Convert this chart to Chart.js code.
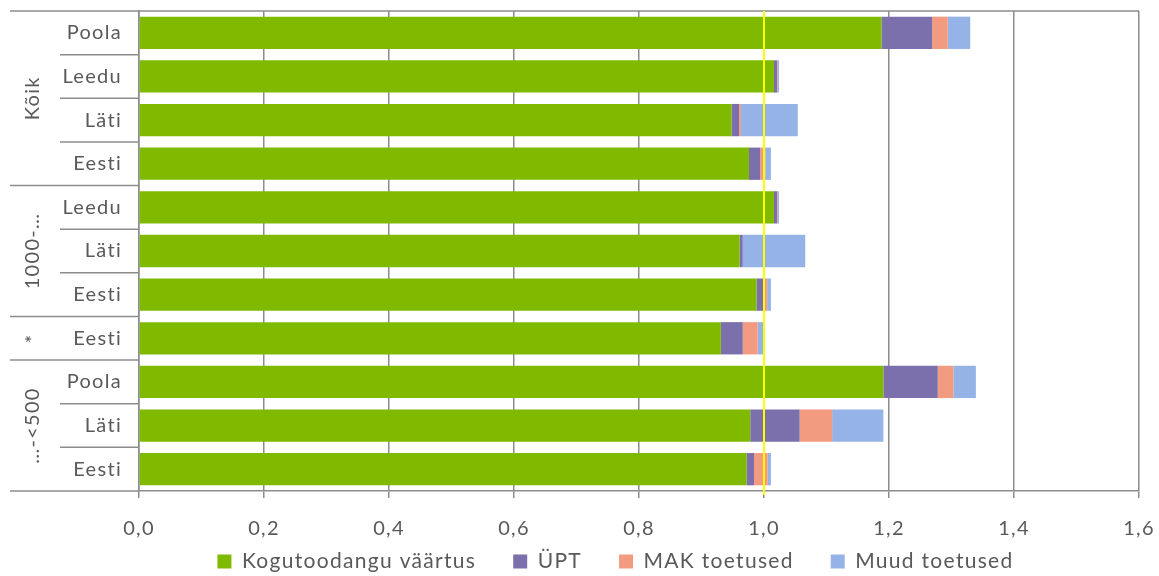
<!DOCTYPE html>
<html lang="et">
<head>
    <meta charset="UTF-8">
    <title>Tulud ja toetused</title>
    <script src="https://cdn.jsdelivr.net/npm/chart.js"></script>
    <style>
        html, body {
            margin: 0;
            padding: 0;
            background: #fff;
        }
        #wrap {
            width: 1159px;
            height: 576px;
        }
    </style>
</head>
<body>
    <div id="wrap">
        <canvas id="barChart" width="1159" height="576"></canvas>
    </div>

    <script>
        // Andmed (loetud jooniselt)
        var countries = ['Poola', 'Leedu', 'Läti', 'Eesti', 'Leedu', 'Läti', 'Eesti', 'Eesti', 'Poola', 'Läti', 'Eesti'];
        var groupNames = ['Kõik', '1000-…', '*', '…-<500'];
        var groupSizes = [4, 3, 1, 3];

        var kogutoodang = [1.188, 1.016, 0.948, 0.976, 1.016, 0.961, 0.988, 0.931, 1.191, 0.978, 0.972];
        var upt         = [0.081, 0.005, 0.012, 0.018, 0.005, 0.005, 0.011, 0.035, 0.087, 0.079, 0.012];
        var makToetused = [0.025, 0.001, 0.003, 0.008, 0.001, 0.000, 0.006, 0.024, 0.025, 0.052, 0.022];
        var muudToetused = [0.036, 0.002, 0.091, 0.009, 0.002, 0.100, 0.006, 0.009, 0.036, 0.082, 0.005];

        var xTicks = [0, 0.2, 0.4, 0.6, 0.8, 1.0, 1.2, 1.4, 1.6];
        var referenceValue = 1.0;

        var textColor = '#595959';
        var gridColor = '#8c8c8c';
        var fontFamily = 'Lato, "Open Sans", sans-serif';
        var spacing = '1.3px';

        // hõredam kiri nagu originaalis
        var letterSpacingPlugin = {
            id: 'letterSpacing',
            beforeLayout: function(chart) { chart.ctx.letterSpacing = spacing; },
            beforeDraw: function(chart) { chart.ctx.letterSpacing = spacing; },
            afterLayout: function(chart) {
                // legend veidi paremale, nagu originaalis
                chart.legend.left += 46;
                chart.legend.right += 46;
            }
        };

        // Vasakpoolsed rühmasildid ja eraldusjooned + kollane joon 1,0 juures
        var groupAxisPlugin = {
            id: 'groupAxis',
            afterDatasetsDraw: function(chart) {
                var ctx = chart.ctx;
                var area = chart.chartArea;
                var x = chart.scales.x;
                var step = (area.bottom - area.top) / countries.length;

                ctx.save();
                ctx.strokeStyle = gridColor;
                ctx.lineWidth = 1.5;

                // ülemine joon
                ctx.beginPath();
                ctx.moveTo(10, area.top);
                ctx.lineTo(area.right, area.top);
                ctx.stroke();

                var idx = 0;
                for (var g = 0; g < groupNames.length; g++) {
                    var start = idx;
                    for (var k = 1; k < groupSizes[g]; k++) {
                        var ly = area.top + (start + k) * step;
                        ctx.beginPath();
                        ctx.moveTo(60, ly);
                        ctx.lineTo(area.left, ly);
                        ctx.stroke();
                    }
                    idx += groupSizes[g];
                    var gy = area.top + idx * step;
                    ctx.beginPath();
                    ctx.moveTo(10, gy);
                    ctx.lineTo(area.left, gy);
                    ctx.stroke();

                    var cy = area.top + (start + groupSizes[g] / 2) * step;
                    ctx.save();
                    ctx.translate(33, cy);
                    ctx.rotate(-Math.PI / 2);
                    ctx.fillStyle = textColor;
                    ctx.font = '20px ' + fontFamily;
                    ctx.textAlign = 'center';
                    ctx.textBaseline = 'middle';
                    ctx.fillText(groupNames[g], 0, 0);
                    ctx.restore();
                }

                // kollane joon
                var rx = x.getPixelForValue(referenceValue);
                ctx.strokeStyle = '#ffff00';
                ctx.lineWidth = 2;
                ctx.beginPath();
                ctx.moveTo(rx, area.top);
                ctx.lineTo(rx, area.bottom + 4);
                ctx.stroke();
                ctx.restore();
            }
        };

        var ctxBar = document.getElementById('barChart').getContext('2d');
        var barChart = new Chart(ctxBar, {
            type: 'bar',
            data: {
                labels: countries,
                datasets: [{
                    label: 'Kogutoodangu väärtus',
                    data: kogutoodang,
                    backgroundColor: '#7fba00'
                }, {
                    label: 'ÜPT',
                    data: upt,
                    backgroundColor: '#7b6fac'
                }, {
                    label: 'MAK toetused',
                    data: makToetused,
                    backgroundColor: '#f29b80'
                }, {
                    label: 'Muud toetused',
                    data: muudToetused,
                    backgroundColor: '#95b3e6'
                }]
            },
            options: {
                indexAxis: 'y',
                responsive: false,
                animation: false,
                layout: {
                    padding: { top: 11, right: 20, left: 0, bottom: -6 }
                },
                datasets: {
                    bar: {
                        categoryPercentage: 1.0,
                        barPercentage: 0.74,
                        borderWidth: 0
                    }
                },
                plugins: {
                    legend: {
                        position: 'bottom',
                        labels: {
                            color: textColor,
                            font: { family: fontFamily, size: 21 },
                            boxWidth: 14,
                            boxHeight: 14,
                            padding: 37
                        }
                    },
                    tooltip: { enabled: false }
                },
                scales: {
                    x: {
                        stacked: true,
                        min: 0,
                        max: 1.6,
                        afterBuildTicks: function(scale) {
                            scale.ticks = xTicks.map(function(v) { return { value: v }; });
                        },
                        afterFit: function(scale) {
                            scale.height = 23;
                            scale.paddingLeft = 0;
                            scale.paddingRight = 0;
                            // ära lõika silte telje kasti järgi
                            scale._computeLabelArea = function() { return undefined; };
                        },
                        ticks: {
                            color: textColor,
                            font: { family: fontFamily, size: 20 },
                            padding: 19,
                            maxRotation: 0,
                            callback: function(v) {
                                return Number(v).toFixed(1).replace('.', ',');
                            }
                        },
                        grid: {
                            color: gridColor,
                            lineWidth: 1.5,
                            tickLength: 7,
                            drawTicks: true
                        },
                        border: { color: gridColor, width: 1.5 }
                    },
                    y: {
                        stacked: true,
                        afterFit: function(scale) {
                            scale.width = 139;
                            scale.paddingTop = 0;
                            scale.paddingBottom = 0;
                        },
                        ticks: {
                            color: textColor,
                            font: { family: fontFamily, size: 20 },
                            padding: 0
                        },
                        grid: { display: false, drawTicks: true, tickLength: 17 },
                        border: { color: gridColor, width: 1.5 }
                    }
                }
            },
            plugins: [letterSpacingPlugin, groupAxisPlugin]
        });
    </script>
</body>
</html>
